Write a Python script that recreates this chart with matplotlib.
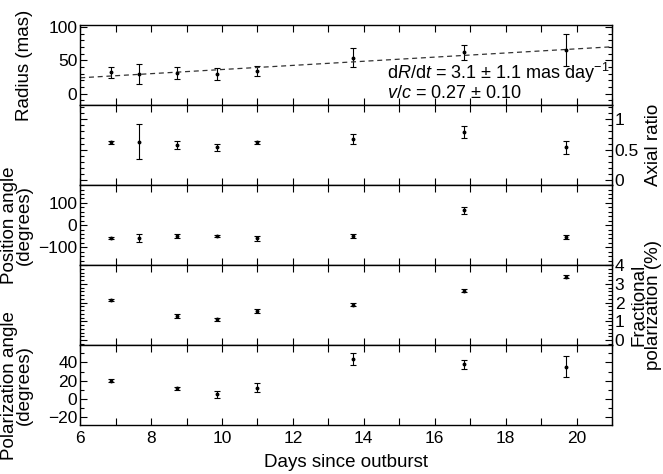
import numpy as np
import matplotlib
matplotlib.use('Agg')
import matplotlib.pyplot as plt
from matplotlib.ticker import MultipleLocator

plt.rcParams['font.family'] = ['Liberation Sans', 'DejaVu Sans']
plt.rcParams['mathtext.fontset'] = 'custom'
plt.rcParams['mathtext.rm'] = 'Liberation Sans'
plt.rcParams['mathtext.it'] = 'Liberation Sans:italic'
plt.rcParams['font.size'] = 12

# days since outburst
days = [6.87, 7.67, 8.74, 9.85, 10.98, 13.69, 16.82, 19.71]
days_pol = [6.87, 8.74, 9.85, 10.98, 13.69, 16.82, 19.71]

radius = [32, 30, 31, 29, 34, 54, 62, 66]
radius_err = [8, 15, 9, 9, 8, 14, 11, 24]

axial = [0.62, 0.63, 0.58, 0.54, 0.62, 0.67, 0.79, 0.54]
axial_err = [0.02, 0.29, 0.07, 0.06, 0.03, 0.08, 0.10, 0.11]

pos_angle = [-57, -57, -50, -50, -60, -50, 66, -54]
pos_angle_err = [4, 19, 8, 4, 10, 8, 15, 8]

frac_pol = [2.13, 1.30, 1.10, 1.56, 1.90, 2.63, 3.38]
frac_pol_err = [0.04, 0.10, 0.08, 0.12, 0.10, 0.08, 0.08]

pol_angle = [20, 11.5, 4.8, 12, 43.7, 38, 35.5]
pol_angle_err = [2, 2, 4, 5, 7, 5, 12]

# fit line
slope = 3.1
fit_at_6 = 24

fig, axs = plt.subplots(5, 1, sharex=True, figsize=(6.63, 4.74), dpi=100)
fig.subplots_adjust(left=0.121, right=0.923, top=0.947, bottom=0.103, hspace=0)

eb = dict(fmt='o', color='black', ms=1.8, elinewidth=0.8, capsize=2, capthick=0.8)
lab = 13.5

ax = axs[0]
ax.errorbar(days, radius, yerr=radius_err, **eb)
xl = np.array([6, 21])
ax.plot(xl, fit_at_6 + slope * (xl - 6), '--', color='#333333', lw=0.9, dashes=(4, 3))
ax.set_ylim(-17, 103)
ax.set_yticks([0, 50, 100])
ax.yaxis.set_minor_locator(MultipleLocator(10))
ax.set_ylabel('Radius (mas)', fontsize=lab)
ax.text(14.65, 22, r'd$R$/d$t$ = 3.1 $\pm$ 1.1 mas day$^{-1}$', fontsize=13)
ax.text(14.65, -6, r'$v$/$c$ = 0.27 $\pm$ 0.10', fontsize=13)

ax = axs[1]
ax.errorbar(days, axial, yerr=axial_err, **eb)
ax.set_ylim(-0.08, 1.23)
ax.set_yticks([0, 0.5, 1])
ax.set_yticklabels(['0', '0.5', '1'])
ax.yaxis.set_minor_locator(MultipleLocator(0.1))
ax.yaxis.tick_right()
ax.yaxis.set_label_position('right')
ax.set_ylabel('Axial ratio', fontsize=lab)

ax = axs[2]
ax.errorbar(days, pos_angle, yerr=pos_angle_err, **eb)
ax.set_ylim(-180, 180)
ax.set_yticks([-100, 0, 100])
ax.yaxis.set_minor_locator(MultipleLocator(20))
ax.set_ylabel('Position angle\n(degrees)', fontsize=lab, linespacing=0.85)

ax = axs[3]
ax.errorbar(days_pol, frac_pol, yerr=frac_pol_err, **eb)
ax.set_ylim(-0.27, 4)
ax.set_yticks([0, 1, 2, 3, 4])
ax.yaxis.set_minor_locator(MultipleLocator(0.2))
ax.yaxis.tick_right()
ax.yaxis.set_label_position('right')
ax.set_ylabel('Fractional\npolarization (%)', fontsize=lab, linespacing=0.85)

ax = axs[4]
ax.errorbar(days_pol, pol_angle, yerr=pol_angle_err, **eb)
ax.set_ylim(-29, 59)
ax.set_yticks([-20, 0, 20, 40])
ax.yaxis.set_minor_locator(MultipleLocator(10))
ax.set_ylabel('Polarization angle\n(degrees)', fontsize=lab, linespacing=0.85)
ax.set_xlim(6, 21)
ax.set_xticks([6, 8, 10, 12, 14, 16, 18, 20])
ax.xaxis.set_minor_locator(MultipleLocator(1))
ax.set_xlabel('Days since outburst', fontsize=13.5, labelpad=6)

for ax in axs:
    ax.tick_params(which='both', direction='in', top=True, bottom=True, left=True, right=True,
                   labelsize=12.5, width=0.8, pad=2)
    ax.tick_params(which='major', length=5)
    ax.tick_params(which='minor', length=3)
    ax.tick_params(axis='x', which='minor', length=5)
    ax.tick_params(axis='x', pad=4)
    for s in ax.spines.values():
        s.set_linewidth(1.0)

for ax in [axs[1], axs[3]]:
    ax.tick_params(labelleft=False, labelright=True)
for ax in [axs[0], axs[2], axs[4]]:
    ax.tick_params(labelleft=True, labelright=False)

fig.align_ylabels([axs[0], axs[2], axs[4]])
fig.savefig('out.png', dpi=100)
